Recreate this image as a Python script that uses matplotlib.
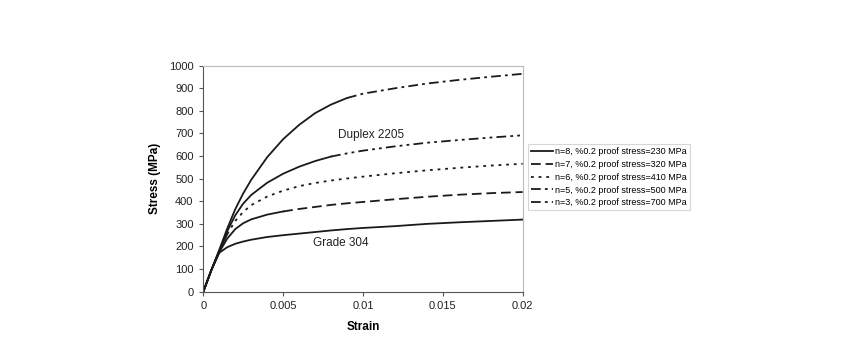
import matplotlib
matplotlib.use("Agg")
import matplotlib.pyplot as plt

plt.rcParams['font.family'] = ['Liberation Sans', 'DejaVu Sans']
plt.rcParams['lines.scale_dashes'] = False

strain = [0, 0.0005, 0.001, 0.0015, 0.002, 0.0025, 0.003, 0.004, 0.005, 0.006, 0.007,
          0.008, 0.009, 0.010, 0.012, 0.014, 0.016, 0.018, 0.020]

n8 = [0, 95, 172, 197, 212, 222, 230, 242, 250, 257, 264, 271, 277, 282, 290, 300, 307, 313, 319]
n7 = [0, 95, 175, 235, 277, 303, 320, 341, 355, 366, 375, 384, 391, 397, 409, 420, 429, 436, 441]
n6 = [0, 95, 180, 255, 313, 353, 383, 421, 447, 467, 481, 492, 501, 509, 524, 537, 548, 558, 566]
n5 = [0, 95, 182, 268, 338, 390, 428, 482, 522, 553, 578, 598, 612, 624, 643, 659, 671, 682, 692]
n3 = [0, 95, 185, 280, 365, 435, 495, 595, 675, 738, 790, 828, 857, 876, 900, 921, 937, 951, 964]

labels = ["n=8, %0.2 proof stress=230 MPa",
          "n=7, %0.2 proof stress=320 MPa",
          "n=6, %0.2 proof stress=410 MPa",
          "n=5, %0.2 proof stress=500 MPa",
          "n=3, %0.2 proof stress=700 MPa"]

styles = ['-', (0, (7, 3.5)), (0, (2, 3.5)), (0, (7, 3, 2, 3, 2, 3)), (0, (7, 3, 2, 3))]
# index up to which the dense initial part of each curve looks solid in the source
solid_until = [18, 8, 3, 11, 12]

fig = plt.figure(figsize=(8.5, 3.41), dpi=100)
ax = fig.add_axes([0.2392, 0.1446, 0.3757, 0.6628])

col = '#1a1a1a'
for ys, lab, ls, k in zip([n8, n7, n6, n5, n3], labels, styles, solid_until):
    ax.plot(strain[:k + 1], ys[:k + 1], color=col, lw=1.3, ls='-', solid_joinstyle='round')
    if k < len(strain) - 1:
        ax.plot(strain[k:], ys[k:], color=col, lw=1.3, ls=ls)
    ax.plot([], [], color=col, lw=1.3, ls=ls, label=lab)

ax.set_xlim(0, 0.02)
ax.set_ylim(0, 1000)
ax.set_xticks([0, 0.005, 0.01, 0.015, 0.02])
ax.set_xticklabels(['0', '0.005', '0.01', '0.015', '0.02'])
ax.set_yticks(range(0, 1001, 100))
ax.tick_params(labelsize=8, length=3, color='#555555', colors='#222222', pad=4)
for s in ['left', 'bottom']:
    ax.spines[s].set_color('#555555')
for s in ['top', 'right']:
    ax.spines[s].set_color('#bbbbbb')

ax.set_xlabel('Strain', fontsize=8.5, fontweight='bold', labelpad=7)
ax.set_ylabel('Stress (MPa)', fontsize=8.5, fontweight='bold', labelpad=6)

ax.text(0.0105, 693, 'Duplex 2205', fontsize=8.5, ha='center', va='center', color='#222222')
ax.text(0.0086, 217, 'Grade 304', fontsize=8.5, ha='center', va='center', color='#222222')

leg = fig.legend(loc='upper left', bbox_to_anchor=(528 / 850, 1 - 144 / 341),
                 fontsize=6.5, frameon=True, handlelength=2.4, handletextpad=0.2,
                 borderpad=0.35, labelspacing=0.42, fancybox=False, borderaxespad=0)
leg.get_frame().set_edgecolor('#cccccc')
leg.get_frame().set_linewidth(0.8)

fig.savefig('out.png', dpi=100)
